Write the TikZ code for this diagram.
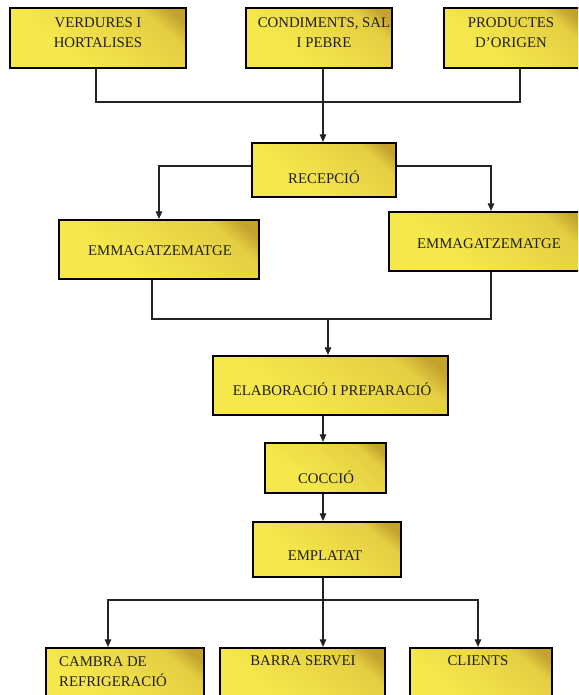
\documentclass[tikz,border=0pt]{standalone}
\usepackage{fontspec}
\setmainfont{Liberation Serif}
\usetikzlibrary{arrows.meta}

\definecolor{boxlight}{RGB}{246,232,76}
\definecolor{boxmid}{RGB}{235,216,70}
\definecolor{boxmidb}{RGB}{228,206,66}
\definecolor{boxdark}{RGB}{196,162,46}
\definecolor{wirecol}{RGB}{35,35,35}

% yellow fill that darkens only towards one corner
\pgfdeclareverticalshading{boxshade}{100bp}{%
  color(0bp)=(boxlight); color(35bp)=(boxlight); color(58bp)=(boxmid);
  color(72bp)=(boxmidb); color(80bp)=(boxdark); color(100bp)=(boxdark)}

\tikzset{
  stepbox/.style={draw=black, line width=2.2pt, rectangle, inner sep=0pt,
    shading=boxshade, shading angle=-40},
  lbl/.style={font=\fontsize{14.8}{20}\selectfont, align=center, inner sep=0pt, text=black!88},
  wire/.style={draw=wirecol, line width=1.1pt},
  arr/.style={wire, -{Triangle[width=6.5pt,length=7.5pt]}},
}

\begin{document}
\begin{tikzpicture}[x=1pt, y=-1pt]
  \useasboundingbox (0,0) rectangle (578,695);
  \clip (0,0) rectangle (578,695);

  % boxes
  \node[stepbox, minimum width=176pt, minimum height=60pt] (ver) at (98,38) {};
  \node[stepbox, minimum width=146pt, minimum height=60pt] (con) at (319,38) {};
  \node[stepbox, minimum width=136pt, minimum height=60pt] (pro) at (512,38) {};
  \node[stepbox, minimum width=144pt, minimum height=54pt] (rec) at (324,170) {};
  \node[stepbox, minimum width=200pt, minimum height=59pt] (emL) at (159,249.5) {};
  \node[stepbox, minimum width=201pt, minimum height=59pt] (emR) at (489.5,241.5) {};
  \node[stepbox, minimum width=235pt, minimum height=59pt] (ela) at (330.5,385.5) {};
  \node[stepbox, minimum width=121pt, minimum height=50pt] (coc) at (325.5,468) {};
  \node[stepbox, minimum width=148pt, minimum height=55pt] (emp) at (327,549.5) {};
  \node[stepbox, minimum width=158pt, minimum height=64pt] (cam) at (125,680) {};
  \node[stepbox, minimum width=165pt, minimum height=64pt] (bar) at (302.5,680) {};
  \node[stepbox, minimum width=142pt, minimum height=64pt] (cli) at (481,680) {};

  % labels
  \node[lbl] (tver) at (98,33) {VERDURES I\\HORTALISES};
  \node[lbl] (tcon) at (324,33) {CONDIMENTS, SAL\\I PEBRE};
  \node[lbl] (tpro) at (511,33) {PRODUCTES\\D’ORIGEN};
  \node[lbl] (trec) at (324,177) {RECEPCIÓ};
  \node[lbl] (temL) at (160,251) {EMMAGATZEMATGE};
  \node[lbl] (temR) at (489,244) {EMMAGATZEMATGE};
  \node[lbl] (tela) at (332,389) {ELABORACIÓ I PREPARACIÓ};
  \node[lbl] (tcoc) at (326,477) {COCCIÓ};
  \node[lbl] (temp) at (325,556) {EMPLATAT};
  \node[lbl, align=left, anchor=west] (tcam) at (59,671.5) {CAMBRA DE\\REFRIGERACIÓ};
  \node[lbl] (tbar) at (303,661) {BARRA SERVEI};
  \node[lbl] (tcli) at (478,661) {CLIENTS};

  % junction points and main spine
  \coordinate (spine) at (323,0);
  \coordinate (j1) at (323,102);
  \coordinate (j2) at (328,319);
  \coordinate (j3) at (323,600);

  % sources into reception
  \draw[wire] ([xshift=-2pt]ver.south) |- (j1) -| ([xshift=8pt]pro.south);
  \draw[arr] (con.south -| spine) -- (rec.north -| spine);

  % reception to storage
  \draw[arr] ([yshift=4pt]rec.west) -| (emL.north);
  \draw[arr] ([yshift=4pt]rec.east) -| ([xshift=1.5pt]emR.north);

  % storage to preparation
  \draw[wire] ([xshift=-7pt]emL.south) |- (j2);
  \draw[wire] ([xshift=1.5pt]emR.south) |- (j2);
  \draw[arr] (j2) -- (j2 |- ela.north);

  % preparation line
  \draw[arr] (ela.south -| spine) -- (coc.north -| spine);
  \draw[arr] (coc.south -| spine) -- (emp.north -| spine);
  \draw[arr] (emp.south -| spine) -- (bar.north -| spine);

  % distribution
  \draw[arr] (j3) -| ([xshift=-17pt]cam.north);
  \draw[arr] (j3) -| ([xshift=-3pt]cli.north);
\end{tikzpicture}
\end{document}
